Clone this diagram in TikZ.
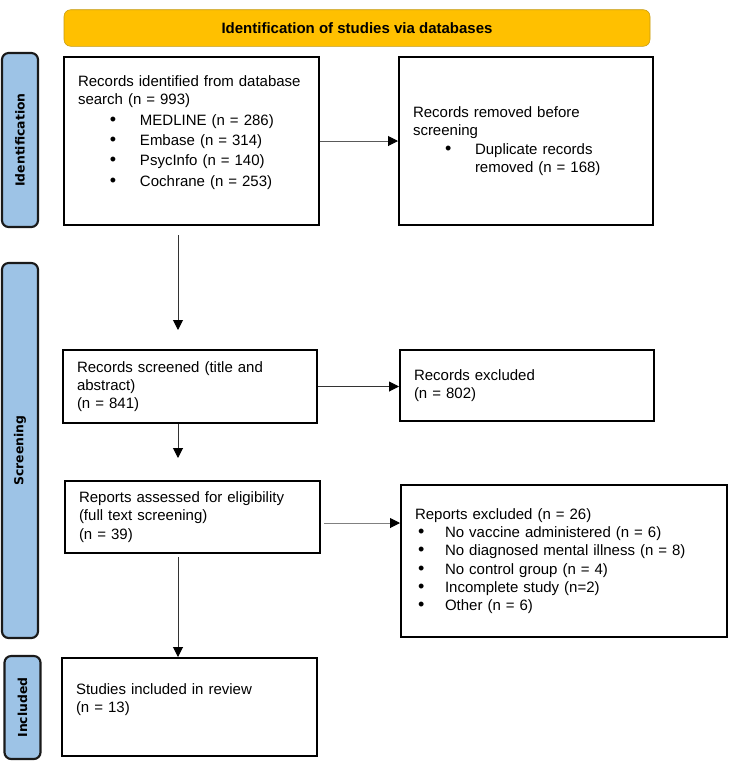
\documentclass[tikz,border=0pt]{standalone}
\usepackage{fontspec}
\setmainfont{Liberation Sans}
\newfontfamily\sidefont{DejaVu Sans}
\usetikzlibrary{arrows.meta}
\definecolor{bannergold}{HTML}{FFC000}
\definecolor{bannerline}{HTML}{C49A12}
\definecolor{sideblue}{HTML}{9DC3E6}
\definecolor{sideline}{HTML}{1A1A1A}
\newcommand{\bul}[2]{\hspace*{#1}\makebox[#2][l]{\fontsize{13.5}{13.7}\selectfont\textbullet}}
\begin{document}
\begin{tikzpicture}[x=0.75pt, y=-0.75pt,
    box/.style={draw, line width=1.5pt, anchor=north west, align=left, inner xsep=10.5pt, inner ysep=0pt, font=\fontsize{11.25}{13.7}\selectfont},
    side/.style={draw=sideline, line width=1.6pt, fill=sideblue, rounded corners=5pt, rotate=90, minimum height=27pt, inner sep=0pt, font=\sidefont\bfseries\fontsize{9.3}{11}\selectfont},
    arr/.style={line width=0.75pt, draw=black!80, -{Triangle[length=7.5pt, width=7.5pt, color=black]}}]
    \useasboundingbox (0,0) rectangle (729,761);
    % header and phases
    \node[draw=bannerline, fill=bannergold, rounded corners=5pt, minimum width=439.5pt, minimum height=27.4pt, font=\bfseries\fontsize{11.25}{13.7}\selectfont] (head) at (357,28) {Identification of studies via databases};
    \node[side, minimum width=130.5pt] (identphase) at (20,140) {Identification};
    \node[side, minimum width=281.25pt] (screenphase) at (20,450.5) {Screening};
    \node[side, minimum width=77.25pt] (inclphase) at (22.5,707.5) {Included};
    % boxes
    \node[box, text width=170.25pt, minimum height=126pt] (found) at (63,56) {Records identified from database\\ search (n = 993)\\[1.5pt]
        \bul{24pt}{22.5pt}MEDLINE (n = 286)\\[1.5pt]
        \bul{24pt}{22.5pt}Embase (n = 314)\\[1.5pt]
        \bul{24pt}{22.5pt}PsycInfo (n = 140)\\[1.5pt]
        \bul{24pt}{22.5pt}Cochrane (n = 253)\par\kern12.8pt};
    \node[box, text width=169.5pt, minimum height=126pt] (dupl) at (398,56) {Records removed before\\ screening\\
        \bul{24pt}{22.5pt}Duplicate records\\
        \hspace*{46.5pt}removed (n = 168)};
    \node[box, text width=169.5pt, minimum height=54.75pt] (screened) at (62,349) {Records screened (title and\\ abstract)\\ (n = 841)};
    \node[box, text width=169.5pt, minimum height=53.25pt] (excl) at (399,349) {Records excluded\\ (n = 802)};
    \node[box, text width=170.25pt, minimum height=54pt] (assessed) at (64,480) {Reports assessed for eligibility\\ (full text screening)\\ (n = 39)};
    \node[box, text width=223.5pt, minimum height=114pt] (rexcl) at (400,484) {Reports excluded (n = 26)\\
        \bul{2.25pt}{20.25pt}No vaccine administered (n = 6)\\
        \bul{2.25pt}{20.25pt}No diagnosed mental illness (n = 8)\\
        \bul{2.25pt}{20.25pt}No control group (n = 4)\\
        \bul{2.25pt}{20.25pt}Incomplete study (n=2)\\
        \bul{2.25pt}{20.25pt}Other (n = 6)};
    \node[box, text width=170.25pt, minimum height=73.5pt] (incl) at (61,657) {Studies included in review\\ (n = 13)\par\kern11.25pt};
    % connectors
    \coordinate (spine) at (178,0);
    \coordinate (rout) at ([yshift=-4.5pt]assessed.east);
    \draw[arr, draw=black!65] (found.east) -- (dupl.west);
    \draw[arr, shorten <=6.75pt, shorten >=14.25pt] (found.south -| spine) -- (screened.north -| spine);
    \draw[arr] (screened.east) -- (screened.east -| excl.west);
    \draw[arr, shorten >=16.5pt] (screened.south -| spine) -- (assessed.north -| spine);
    \draw[arr, draw=black!50, shorten <=2.25pt] (rout) -- (rout -| rexcl.west);
    \draw[arr, shorten <=2.25pt] (assessed.south -| spine) -- (incl.north -| spine);
\end{tikzpicture}
\end{document}
